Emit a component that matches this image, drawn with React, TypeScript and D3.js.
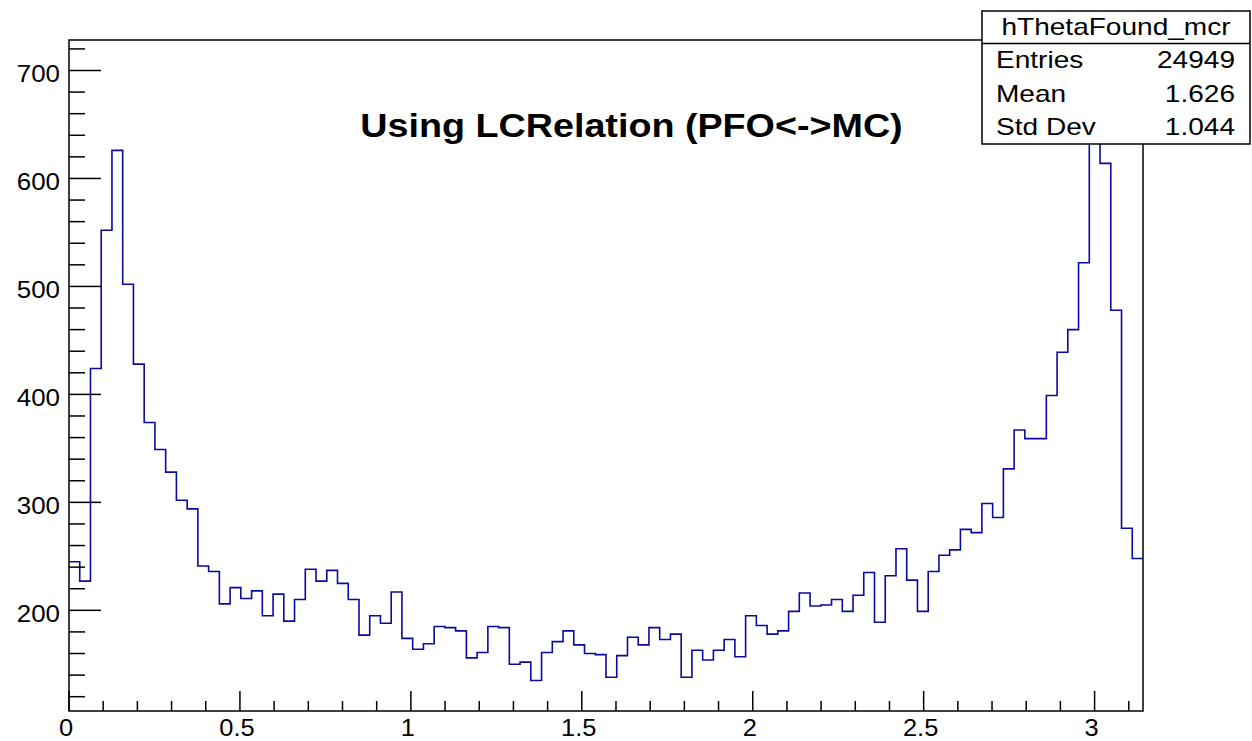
import React from "react";
import * as d3 from "d3";

// Histogram hThetaFound_mcr: 100 bins over [0, pi]
const binCounts: number[] = [
  245, 227, 424, 552, 626, 502, 428, 374, 349, 328,
  302, 294, 241, 236, 206, 221, 211, 218, 195, 215,
  190, 210, 238, 227, 237, 225, 210, 177, 195, 188,
  217, 174, 164, 169, 185, 184, 181, 156, 161, 185,
  184, 150, 152, 135, 161, 171, 181, 168, 160, 159,
  138, 158, 175, 168, 184, 173, 178, 138, 163, 154,
  163, 173, 157, 195, 186, 178, 181, 199, 216, 204,
  205, 210, 199, 214, 235, 189, 232, 257, 228, 199,
  236, 251, 256, 275, 272, 299, 286, 331, 367, 359,
  359, 399, 439, 460, 522, 700, 614, 478, 276, 248,
];

const xMajorTicks: number[] = [0, 0.5, 1, 1.5, 2, 2.5, 3];
const xTickLabels: string[] = ["0", "0.5", "1", "1.5", "2", "2.5", "3"];
const yMajorTicks: number[] = [200, 300, 400, 500, 600, 700];

const histTitle = "Using LCRelation (PFO<->MC)";
const statsName = "hThetaFound_mcr";
const statsRows: [string, string][] = [
  ["Entries", "24949"],
  ["Mean", "1.626"],
  ["Std Dev", "1.044"],
];

const W = 1252;
const H = 741;
const FRAME = { left: 69, right: 1143, top: 40, bottom: 711 };
const FONT = "'Liberation Sans', Arial, Helvetica, sans-serif";
const LINE_COLOR = "#0a0a9c";

export default function App() {
  const nBins = binCounts.length;
  const xMin = 0;
  const xMax = Math.PI;
  const binW = (xMax - xMin) / nBins;

  // ROOT-style vertical range: 5% margin around the data extent
  const vMin = d3.min(binCounts) as number;
  const vMax = d3.max(binCounts) as number;
  const margin = 0.05 * (vMax - vMin);

  const x = d3.scaleLinear().domain([xMin, xMax]).range([FRAME.left, FRAME.right]);
  const y = d3
    .scaleLinear()
    .domain([vMin - margin, vMax + margin])
    .range([FRAME.bottom, FRAME.top]);

  // step outline of the histogram
  const pts: [number, number][] = [];
  binCounts.forEach((c, i) => {
    pts.push([xMin + i * binW, c]);
    pts.push([xMin + (i + 1) * binW, c]);
  });
  const outline = d3
    .line<[number, number]>()
    .x((d) => x(d[0]))
    .y((d) => y(d[1]))(pts) as string;

  const [yLo, yHi] = y.domain();
  const yMinor = d3.range(Math.ceil(yLo / 20) * 20, yHi, 20).filter((v) => v % 100 !== 0);
  const xMinor = d3
    .range(0, Math.floor(xMax * 10) + 1)
    .map((k) => k / 10)
    .filter((v) => Math.abs(v * 2 - Math.round(v * 2)) > 1e-9);

  const stroke = { stroke: "#000", strokeWidth: 1.5 };

  const box = { left: 982, right: 1250, top: 11, bottom: 144, divider: 43.5 };
  const sx = 1.22;

  return (
    <svg
      width={W}
      height={H}
      style={{ position: "absolute", left: 0, top: 0, background: "#fff" }}
      fontFamily={FONT}
    >
      <rect x={0} y={0} width={W} height={H} fill="#fff" />

      {/* histogram outline */}
      <path d={outline} fill="none" stroke={LINE_COLOR} strokeWidth={1.6} />

      {/* frame */}
      <rect
        x={FRAME.left}
        y={FRAME.top}
        width={FRAME.right - FRAME.left}
        height={FRAME.bottom - FRAME.top}
        fill="none"
        {...stroke}
      />

      {/* y axis ticks */}
      {yMajorTicks.map((v) => (
        <g key={`ym${v}`}>
          <line x1={FRAME.left} x2={FRAME.left + 32} y1={y(v)} y2={y(v)} {...stroke} />
          <text
            x={60}
            y={y(v) + 12}
            textAnchor="end"
            fontSize={24}
            fill="#000"
            transform={`translate(60,0) scale(1.08,1) translate(-60,0)`}
          >
            {v}
          </text>
        </g>
      ))}
      {yMinor.map((v) => (
        <line key={`yn${v}`} x1={FRAME.left} x2={FRAME.left + 16} y1={y(v)} y2={y(v)} {...stroke} />
      ))}

      {/* x axis ticks */}
      {xMajorTicks.map((v, i) => (
        <g key={`xm${v}`}>
          <line x1={x(v)} x2={x(v)} y1={FRAME.bottom} y2={FRAME.bottom - 20} {...stroke} />
          <text
            textAnchor="middle"
            fontSize={24}
            fill="#000"
            transform={`translate(${x(v) - 3},736) scale(1.06,1)`}
          >
            {xTickLabels[i]}
          </text>
        </g>
      ))}
      {xMinor.map((v) => (
        <line key={`xn${v}`} x1={x(v)} x2={x(v)} y1={FRAME.bottom} y2={FRAME.bottom - 10} {...stroke} />
      ))}

      {/* title */}
      <text
        textAnchor="middle"
        fontSize={32.5}
        fontWeight="bold"
        fill="#000"
        transform={`translate(631.5,137) scale(1.16,1)`}
      >
        {histTitle}
      </text>

      {/* statistics box */}
      <rect
        x={box.left}
        y={box.top}
        width={box.right - box.left}
        height={box.bottom - box.top}
        fill="#fff"
        {...stroke}
      />
      <line x1={box.left} x2={box.right} y1={box.divider} y2={box.divider} {...stroke} />
      <text
        textAnchor="middle"
        fontSize={23}
        fill="#000"
        transform={`translate(${(box.left + box.right) / 2},35) scale(${sx},1)`}
      >
        {statsName}
      </text>
      {statsRows.map(([k, val], i) => (
        <g key={k}>
          <text fontSize={23} fill="#000" transform={`translate(996,${68.3 + i * 33.3}) scale(${sx},1)`}>
            {k}
          </text>
          <text
            fontSize={23}
            fill="#000"
            textAnchor="end"
            transform={`translate(1235,${68.3 + i * 33.3}) scale(${sx},1)`}
          >
            {val}
          </text>
        </g>
      ))}
    </svg>
  );
}
